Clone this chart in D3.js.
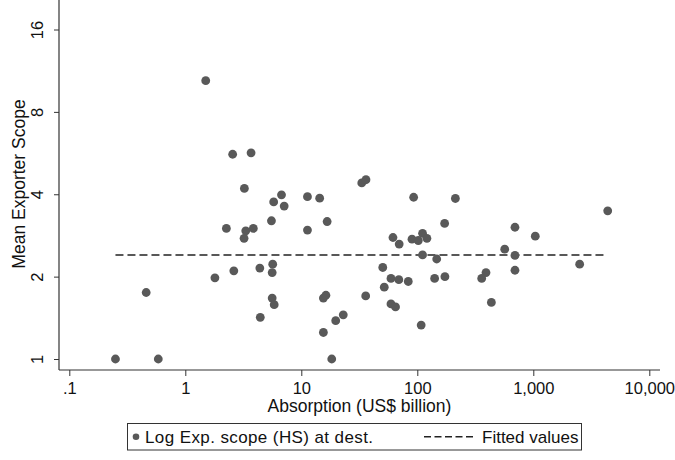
<!DOCTYPE html>
<html>
<head>
<meta charset="utf-8">
<script src="https://cdn.jsdelivr.net/npm/d3@7"></script>
<style>
  body { margin: 0; background: #fff; }
  svg { display: block; font-family: "Liberation Sans", Arial, sans-serif; }
</style>
</head>
<body>
<svg id="chart" width="675" height="460"></svg>
<script>
// Absorption (US$ billion) and mean exporter scope
const absorption = [
  1.5, 2.56, 3.69, 3.23, 6.75, 11.3, 14.4, 5.78, 7.12, 2.26,
  3.32, 3.86, 3.21, 5.53, 11.3, 16.7, 5.67, 5.61, 4.39, 2.62,
  1.8, 0.46, 5.61, 5.84, 15.5, 16.3, 4.43, 15.5, 19.8, 23,
  0.25, 0.585, 18.3, 33.2, 36.1, 93, 213, 4380, 172, 695,
  1040, 61.7, 69.8, 90, 102, 111, 121, 567, 111, 147,
  695, 50.4, 2510, 695, 391, 359, 59.3, 69.3, 83.6, 141,
  173, 51.9, 35.9, 59.3, 64.9, 435, 108
];
const scope = [
  10.4, 5.6, 5.67, 4.2, 3.98, 3.92, 3.87, 3.75, 3.62, 3.0,
  2.94, 3.0, 2.76, 3.2, 2.96, 3.18, 2.22, 2.07, 2.15, 2.1,
  1.98, 1.75, 1.67, 1.58, 1.67, 1.71, 1.42, 1.25, 1.38, 1.45,
  1, 1, 1, 4.4, 4.52, 3.9, 3.86, 3.48, 3.13, 3.03,
  2.81, 2.78, 2.63, 2.74, 2.71, 2.88, 2.76, 2.52, 2.4, 2.32,
  2.39, 2.16, 2.22, 2.11, 2.07, 1.97, 1.97, 1.95, 1.92, 1.97,
  2.0, 1.83, 1.7, 1.59, 1.55, 1.61, 1.33
];
const fittedValue = 2.4;

const xTicks = [0.1, 1, 10, 100, 1000, 10000];
const xTickLabels = [".1", "1", "10", "100", "1,000", "10,000"];
const yTicks = [1, 2, 4, 8, 16];

const svg = d3.select("#chart");
const ink = "#333";
const textInk = "#111";
const dotColor = "#595959";
const tickFont = 16.5;
const labelFont = 17.5;
const legendFont = 17;

const x = d3.scaleLog().domain([0.1, 10000]).range([69.3, 649.3]);
const y = d3.scaleLog().base(2).domain([1, 16]).range([359, 29.5]);

const plotLeft = 59, plotRight = 660, plotBottom = 370, plotTop = 0;

// axes
const xAxis = svg.append("g")
  .attr("transform", `translate(0,${plotBottom})`)
  .call(d3.axisBottom(x).tickValues(xTicks).tickSize(6).tickPadding(6)
    .tickFormat((d, i) => xTickLabels[i]));
xAxis.select(".domain").remove();
xAxis.selectAll("line").attr("stroke", ink);
xAxis.selectAll("text").attr("font-size", tickFont).attr("fill", textInk).attr("font-family", null);

const yAxis = svg.append("g")
  .attr("transform", `translate(${plotLeft},0)`)
  .call(d3.axisLeft(y).tickValues(yTicks).tickSize(5).tickFormat(d3.format("d")));
yAxis.select(".domain").remove();
yAxis.selectAll("line").attr("stroke", ink);
yAxis.selectAll("text")
  .attr("font-size", tickFont).attr("fill", textInk).attr("font-family", null)
  .attr("x", null)
  .attr("text-anchor", "middle")
  .attr("transform", "translate(-21.5,0) rotate(-90)")
  .attr("y", 0).attr("dy", "0.35em");

svg.append("line")
  .attr("x1", plotLeft).attr("x2", plotLeft)
  .attr("y1", plotTop).attr("y2", plotBottom)
  .attr("stroke", ink).attr("stroke-width", 1.2);
svg.append("line")
  .attr("x1", plotLeft).attr("x2", plotRight)
  .attr("y1", plotBottom).attr("y2", plotBottom)
  .attr("stroke", ink).attr("stroke-width", 1.2);

// axis titles
svg.append("text")
  .attr("x", (plotLeft + plotRight) / 2).attr("y", 412)
  .attr("text-anchor", "middle").attr("font-size", labelFont).attr("fill", textInk)
  .text("Absorption (US$ billion)");
svg.append("text")
  .attr("transform", `translate(19,184) rotate(-90)`)
  .attr("text-anchor", "middle").attr("dy", "0.35em")
  .attr("font-size", labelFont).attr("fill", textInk)
  .text("Mean Exporter Scope");

// fitted line
const ext = d3.extent(absorption);
svg.append("line")
  .attr("x1", x(ext[0])).attr("x2", x(ext[1]) - 4)
  .attr("y1", y(fittedValue)).attr("y2", y(fittedValue))
  .attr("stroke", "#222").attr("stroke-width", 1.4)
  .attr("stroke-dasharray", "8,4");

// points
const points = absorption.map((a, i) => ({ a, s: scope[i] }));
svg.append("g").selectAll("circle")
  .data(points)
  .join("circle")
  .attr("cx", d => x(d.a))
  .attr("cy", d => y(d.s))
  .attr("r", 4.4)
  .attr("fill", dotColor);

// legend
const legend = svg.append("g");
legend.append("rect")
  .attr("x", 127.5).attr("y", 423.5).attr("width", 454).attr("height", 26.5)
  .attr("fill", "none").attr("stroke", ink).attr("stroke-width", 1);
legend.append("circle")
  .attr("cx", 136).attr("cy", 436.7).attr("r", 3.3).attr("fill", dotColor);
legend.append("text")
  .attr("x", 145).attr("y", 436.7).attr("dy", "0.35em")
  .attr("font-size", legendFont).attr("fill", textInk)
  .attr("textLength", 228).attr("lengthAdjust", "spacing")
  .text("Log Exp. scope (HS) at dest.");
legend.append("line")
  .attr("x1", 424).attr("x2", 474).attr("y1", 436.7).attr("y2", 436.7)
  .attr("stroke", "#222").attr("stroke-width", 1.4)
  .attr("stroke-dasharray", "7,3.5");
legend.append("text")
  .attr("x", 482).attr("y", 436.7).attr("dy", "0.35em")
  .attr("font-size", legendFont).attr("fill", textInk)
  .text("Fitted values");
</script>
</body>
</html>
